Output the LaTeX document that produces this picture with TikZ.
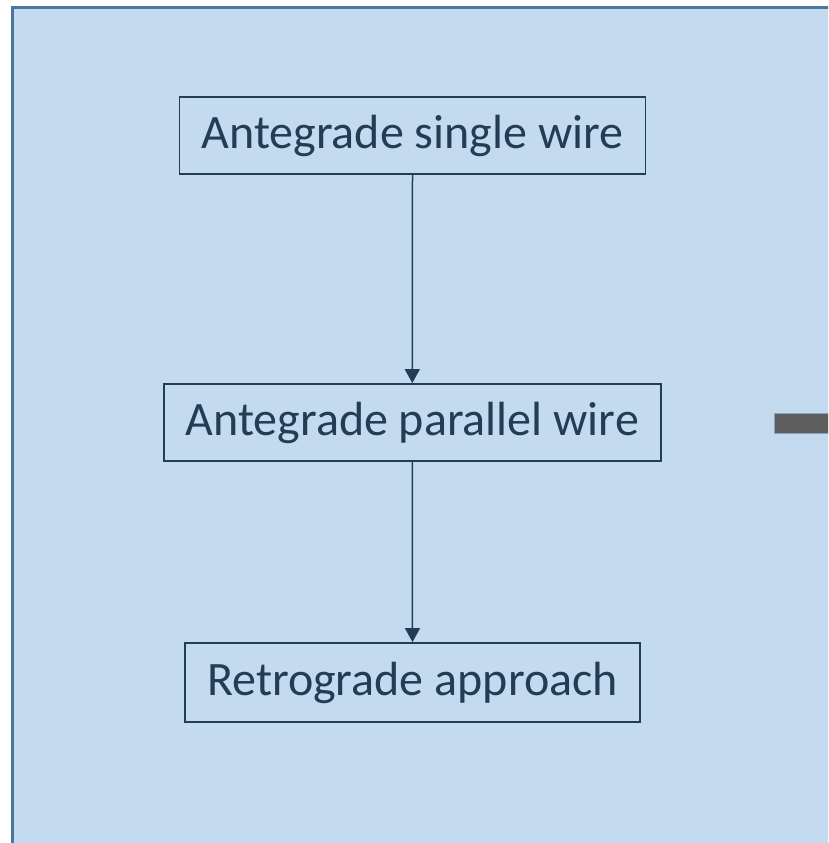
\documentclass[tikz,border=0pt]{standalone}
\usepackage{fontspec}
\setmainfont{Carlito}
\usetikzlibrary{arrows.meta}
\definecolor{panelfill}{HTML}{C4DAEF}
\definecolor{panelline}{HTML}{4A77A2}
\definecolor{boxline}{HTML}{243C55}
\definecolor{barfill}{HTML}{5E5E5E}
\definecolor{barline}{HTML}{8DA3BA}

\begin{document}
\begin{tikzpicture}[x=1pt, y=-1pt,
        stage/.style={draw=boxline, line width=1.8pt, text=boxline, inner sep=0pt,
            minimum height=77pt, font=\fontsize{48}{56}\selectfont},
        flow/.style={draw=boxline, line width=1.5pt, -{Triangle[width=15pt, length=14pt]}}]
        \useasboundingbox (0, 0) rectangle (828, 843);
        \clip (0, 0) rectangle (828, 843);
        \draw[line width=3pt, draw=panelline, fill=panelfill] (12, 8) rectangle (900, 900);
        \draw[fill=barfill, draw=barline, line width=1pt] (774, 413.5) rectangle (840, 433);
        \node[stage, minimum width=466pt] (single) at (412.5, 135.7) {Antegrade single wire};
        \node[stage, minimum width=497pt] (parallel) at (412.3, 422.5) {Antegrade parallel wire};
        \node[stage, minimum width=455pt, minimum height=79pt] (retro) at (412.5, 682.5) {Retrograde approach};
        \draw[flow] (single.south) -- (parallel.north);
        \draw[flow] (parallel.south) -- (retro.north);
    \end{tikzpicture}
\end{document}
